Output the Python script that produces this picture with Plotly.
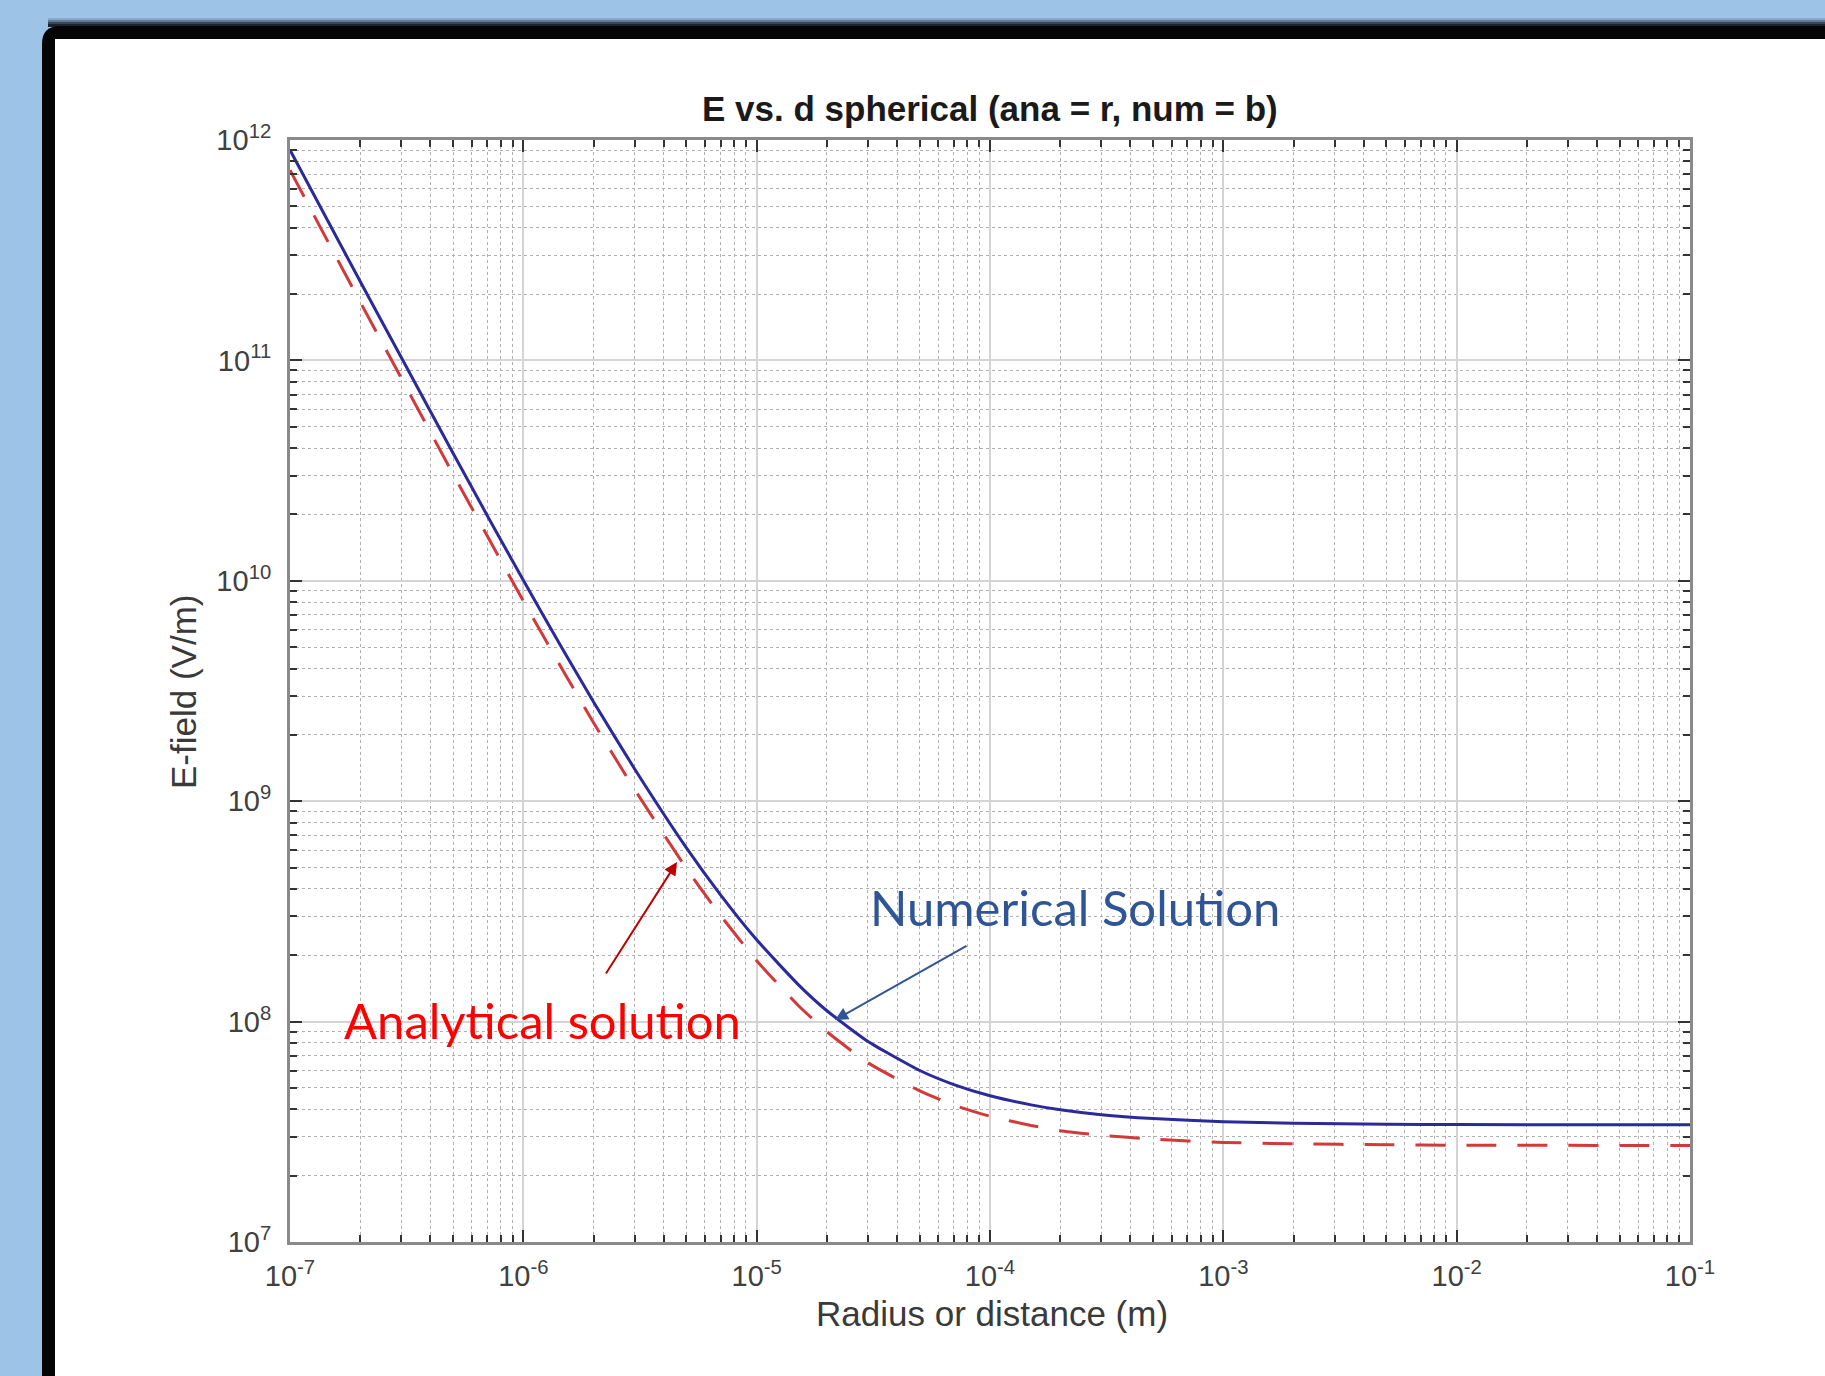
import plotly.graph_objects as go

# ---------------- data ----------------
r_num = [1e-7, 1.5e-7, 2e-7, 3e-7, 5e-7, 7e-7, 1e-6, 1.5e-6, 2e-6, 3e-6, 5e-6, 7e-6,
         1e-5, 1.5e-5, 2e-5, 3e-5, 5e-5, 7e-5, 1e-4, 1.5e-4, 2e-4, 3e-4, 5e-4,
         1e-3, 2e-3, 5e-3, 1e-2, 1e-1]
E_num = [9.0e11, 4.03e11, 2.28e11, 1.03e11, 3.79e10, 1.98e10, 1.005e10, 4.74e9, 2.82e9,
         1.40e9, 6.14e8, 3.76e8, 2.35e8, 1.48e8, 1.12e8, 8.12e7, 6.0e7, 5.18e7, 4.61e7,
         4.19e7, 3.98e7, 3.78e7, 3.63e7, 3.51e7, 3.46e7, 3.42e7, 3.41e7, 3.40e7]

r_ana = [1e-7, 1.5e-7, 2e-7, 3e-7, 5e-7, 7e-7, 1e-6, 1.5e-6, 2e-6, 3e-6, 5e-6, 7e-6,
         1e-5, 1.5e-5, 2e-5, 3e-5, 5e-5, 7e-5, 1e-4, 1.5e-4, 2e-4, 3e-4, 5e-4,
         1e-3, 2e-3, 5e-3, 1e-2, 1e-1]
E_ana = [7.3e11, 3.25e11, 1.84e11, 8.3e10, 3.05e10, 1.6e10, 8.1e9, 3.82e9, 2.27e9,
         1.13e9, 4.95e8, 3.03e8, 1.89e8, 1.19e8, 9.0e7, 6.5e7, 4.85e7, 4.18e7, 3.72e7,
         3.38e7, 3.2e7, 3.05e7, 2.93e7, 2.83e7, 2.79e7, 2.76e7, 2.75e7, 2.74e7]

x_tickvals = [1e-7, 1e-6, 1e-5, 1e-4, 1e-3, 1e-2, 1e-1]
x_ticklabels = ["10<sup>-7</sup>", "10<sup>-6</sup>", "10<sup>-5</sup>", "10<sup>-4</sup>",
                "10<sup>-3</sup>", "10<sup>-2</sup>", "10<sup>-1</sup>"]
y_tickvals = [1e7, 1e8, 1e9, 1e10, 1e11, 1e12]
y_ticklabels = ["10<sup>7</sup>", "10<sup>8</sup>", "10<sup>9</sup>", "10<sup>10</sup>",
                "10<sup>11</sup>", "10<sup>12</sup>"]

title_text = "E vs. d spherical (ana = r, num = b)"
xlabel = "Radius or distance (m)"
ylabel = "E-field (V/m)"
num_label = "Numerical Solution"
ana_label = "Analytical solution"

# ---------------- layout geometry ----------------
W, H = 1825, 1376
PL, PR, PT, PB = 290, 1690, 140, 1242


def px(x):
    return (x - PL) / (PR - PL)


def py(y):
    return (PB - y) / (PB - PT)


x_minor = [m * 10.0 ** e for e in range(-7, -1) for m in range(2, 10)]
y_minor = [m * 10.0 ** e for e in range(7, 12) for m in range(2, 10)]

fig = go.Figure()
fig.add_trace(go.Scatter(x=r_ana, y=E_ana, mode="lines",
                         line=dict(color="#d23a3a", width=3, dash="30px,21px", shape="spline", smoothing=0.5),
                         hoverinfo="skip", showlegend=False))
fig.add_trace(go.Scatter(x=r_num, y=E_num, mode="lines",
                         line=dict(color="#2a2a9a", width=3, shape="spline", smoothing=0.5),
                         hoverinfo="skip", showlegend=False))

tickfont = dict(family="Liberation Sans, Arial, sans-serif", size=29, color="#404040")
axis_common = dict(
    type="log", showline=True, linecolor="#8a8a8a", linewidth=3, mirror="allticks",
    ticks="inside", ticklen=12, tickwidth=2, tickcolor="#333333",
    showgrid=True, gridcolor="#d4d4d4", gridwidth=1.5, zeroline=False,
    tickfont=tickfont,
)

fig.update_xaxes(**axis_common, range=[-7, -1], tickmode="array", tickvals=x_tickvals,
                 ticktext=x_ticklabels, ticklabelstandoff=6,
                 minor=dict(tickmode="array", tickvals=x_minor, ticks="inside", ticklen=7,
                            tickwidth=2, tickcolor="#333333", showgrid=True,
                            gridcolor="#b0b0b0", gridwidth=1, griddash="dot"))
fig.update_yaxes(**axis_common, range=[7, 12], tickmode="array", tickvals=y_tickvals,
                 ticktext=y_ticklabels, ticklabelstandoff=10,
                 minor=dict(tickmode="array", tickvals=y_minor, ticks="inside", ticklen=7,
                            tickwidth=2, tickcolor="#333333", showgrid=True,
                            gridcolor="#b0b0b0", gridwidth=1, griddash="dot"))

# frame (black border with rounded corner, white panel)
wx0, wy0 = px(55), py(39)
xr, yb = px(1900), py(1450)
rc = 18
top = 26
frame_path = (f"M {px(42)},{yb} L {px(42)},{py(top + rc)} Q {px(42)},{py(top)} {px(42 + rc)},{py(top)} "
              f"L {xr},{py(top)} L {xr},{yb} Z")
shapes = []
# soft shadow above the black frame (blue -> dark)
for i, a in enumerate([0.15, 0.3, 0.5, 0.7]):
    y_top = 18 + i * 2
    shapes.append(dict(type="rect", xref="paper", yref="paper", x0=px(48), x1=xr,
                       y0=py(top + 1), y1=py(y_top), fillcolor=f"rgba(15,20,30,{a})",
                       line_width=0, layer="below"))
shapes += [
    dict(type="path", xref="paper", yref="paper", path=frame_path,
         fillcolor="#050505", line_width=0, layer="below"),
    dict(type="rect", xref="paper", yref="paper", x0=wx0, x1=xr, y0=yb, y1=wy0,
         fillcolor="#ffffff", line_width=0, layer="below"),
]

label_font = dict(family="Liberation Sans, Arial, sans-serif", size=35, color="#3a3a3a")
annotations = [
    dict(text="<b>" + title_text + "</b>", xref="paper", yref="paper", x=px(990), y=py(108),
         showarrow=False, xanchor="center", yanchor="middle",
         font=dict(family="Liberation Sans, Arial, sans-serif", size=35, color="#1a1a1a")),
    dict(text=xlabel, xref="paper", yref="paper", x=px(992), y=py(1313), showarrow=False,
         xanchor="center", yanchor="middle", font=label_font),
    dict(text=ylabel, xref="paper", yref="paper", x=px(183), y=py(692), showarrow=False,
         xanchor="center", yanchor="middle", textangle=-90, font=label_font),
    dict(text=num_label, xref="paper", yref="paper", x=px(1075), y=py(907), showarrow=False,
         xanchor="center", yanchor="middle",
         font=dict(family="Lato, Open Sans, sans-serif", size=49, color="#2f5597")),
    dict(text=ana_label, xref="paper", yref="paper", x=px(542), y=py(1020), showarrow=False,
         xanchor="center", yanchor="middle",
         font=dict(family="Lato, Open Sans, sans-serif", size=49, color="#ff0000")),
    dict(text="", xref="paper", yref="paper", x=px(677), y=py(862), ax=605 - 677, ay=975 - 862,
         showarrow=True, arrowhead=2, arrowsize=1.3, arrowwidth=2, arrowcolor="#c00000"),
    dict(text="", xref="paper", yref="paper", x=px(835), y=py(1020), ax=968 - 835, ay=945 - 1020,
         showarrow=True, arrowhead=2, arrowsize=1.3, arrowwidth=2, arrowcolor="#2f5597"),
]

fig.update_layout(
    width=W, height=H,
    margin=dict(l=PL, r=W - PR, t=PT, b=H - PB, pad=0),
    paper_bgcolor="#9dc3e6", plot_bgcolor="rgba(0,0,0,0)",
    shapes=shapes, annotations=annotations, showlegend=False,
)

fig.write_html(
    "out.html",
    config={"displayModeBar": False},
    post_script="document.body.style.margin='0px';document.body.style.background='#9dc3e6';",
)
